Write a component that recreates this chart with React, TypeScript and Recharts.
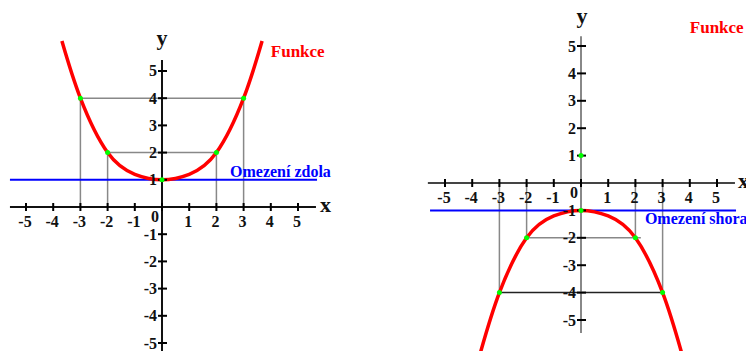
import React from 'react';
import { ComposedChart, Line, Scatter, XAxis, YAxis, ReferenceLine } from 'recharts';

// tick values shared by both panels
const X_TICKS = [-5, -4, -3, -2, -1, 1, 2, 3, 4, 5];
const Y_TICKS = [-5, -4, -3, -2, -1, 1, 2, 3, 4, 5];

// left panel: curve bounded from below
const LEFT_CURVE = [
  { x: -3.68, y: 6.1 }, { x: -3, y: 4 }, { x: -2, y: 2 }, { x: -1, y: 1.2 }, { x: 0, y: 1 },
  { x: 1, y: 1.2 }, { x: 2, y: 2 }, { x: 3, y: 4 }, { x: 3.68, y: 6.1 },
];
const LEFT_POINTS = [{ x: -3, y: 4 }, { x: -2, y: 2 }, { x: 0, y: 1 }, { x: 2, y: 2 }, { x: 3, y: 4 }];
const LEFT_GUIDES_X = [-3, -2, 2, 3];
const LEFT_GUIDES_Y = [{ y: 4, from: -3, to: 3 }, { y: 2, from: -2, to: 2.1 }];
const LEFT_LIMIT = 1;

// right panel: curve bounded from above
const RIGHT_CURVE = [
  { x: -3.7, y: -6.2 }, { x: -3, y: -4 }, { x: -2, y: -2 }, { x: -1, y: -1.2 }, { x: 0, y: -1 },
  { x: 1, y: -1.2 }, { x: 2, y: -2 }, { x: 3, y: -4 }, { x: 3.7, y: -6.2 },
];
const RIGHT_POINTS = [
  { x: 0, y: 1 }, { x: 0, y: -1 }, { x: -2, y: -2 }, { x: 2, y: -2 }, { x: -3, y: -4 }, { x: 3, y: -4 },
];
const RIGHT_GUIDES_X = [-3, -2, 2, 3];
const RIGHT_GUIDES_Y = [{ y: -2, from: -2, to: 2.2 }, { y: -4, from: -3, to: 3 }];
const RIGHT_LIMIT = -1;

const FONT = { fontFamily: '"Liberation Serif", serif', fontWeight: 700 };

const valueAt = (curve: { x: number; y: number }[], x: number) =>
  curve.find((p) => p.x === x)?.y ?? 0;

interface PanelProps {
  curve: { x: number; y: number }[];
  points: { x: number; y: number }[];
  guidesX: number[];
  guidesY: { y: number; from: number; to: number }[];
  limit: number;
  xDomain: [number, number];
  yDomain: [number, number];
  xAxisSpan: [number, number];
  yAxisSpan: [number, number];
  limitSpan: [number, number];
  labels: { x: number; y: number; text: string; color: string; size: number; anchor: string }[];
  xAxisColor: string;
  yAxisColor: string;
  guideColors: string[];
}

const Panel: React.FC<PanelProps> = (p) => {
  const xTicks = X_TICKS.map((v) => ({ x: v, y: 0 }));
  const yTicks = Y_TICKS.map((v) => ({ x: 0, y: v }));
  return (
    <ComposedChart width={373} height={351} margin={{ top: 0, right: 0, bottom: 0, left: 0 }}>
      <XAxis type="number" dataKey="x" domain={p.xDomain} allowDataOverflow hide />
      <YAxis type="number" dataKey="y" domain={p.yDomain} allowDataOverflow hide />

      {/* guide lines */}
      {p.guidesX.map((gx) => (
        <ReferenceLine key={`gx${gx}`} ifOverflow="visible" stroke="#888" strokeWidth={1.5}
          segment={[{ x: gx, y: 0 }, { x: gx, y: valueAt(p.curve, gx) }]} />
      ))}
      {p.guidesY.map((g, i) => (
        <ReferenceLine key={`gy${g.y}`} ifOverflow="visible" stroke={p.guideColors[i]} strokeWidth={1.5}
          segment={[{ x: g.from, y: g.y }, { x: g.to, y: g.y }]} />
      ))}

      {/* axes */}
      <ReferenceLine ifOverflow="visible" stroke={p.xAxisColor} strokeWidth={2}
        segment={[{ x: p.xAxisSpan[0], y: 0 }, { x: p.xAxisSpan[1], y: 0 }]} />
      <ReferenceLine ifOverflow="visible" stroke={p.yAxisColor} strokeWidth={2}
        segment={[{ x: 0, y: p.yAxisSpan[0] }, { x: 0, y: p.yAxisSpan[1] }]} />

      {/* limit line */}
      <ReferenceLine ifOverflow="visible" stroke="#0000ff" strokeWidth={2}
        segment={[{ x: p.limitSpan[0], y: p.limit }, { x: p.limitSpan[1], y: p.limit }]} />

      <Scatter data={xTicks} isAnimationActive={false}
        shape={(s: any) => (
          <g>
            <line x1={s.cx} x2={s.cx} y1={s.cy - 4} y2={s.cy + 4} stroke="#000" strokeWidth={2} />
            <text x={s.cx - 1} y={s.cy + 20} textAnchor="middle" style={{ ...FONT, fontSize: 16 }} fill="#111">
              {`${s.payload.x}`}
            </text>
          </g>
        )} />
      <Scatter data={yTicks} isAnimationActive={false}
        shape={(s: any) => (
          <g>
            <line x1={s.cx - 4} x2={s.cx + 5} y1={s.cy} y2={s.cy} stroke="#000" strokeWidth={2} />
            <text x={s.cx - 5} y={s.cy + 5.5} textAnchor="end" style={{ ...FONT, fontSize: 16 }} fill="#111">
              {`${s.payload.y}`}
            </text>
          </g>
        )} />
      <Scatter data={[{ x: 0, y: 0 }]} isAnimationActive={false}
        shape={(s: any) => (
          <g>
            <line x1={s.cx} x2={s.cx} y1={s.cy - 4} y2={s.cy + 4} stroke="#000" strokeWidth={2} />
            <text x={s.cx - 7} y={s.cy + 15} textAnchor="middle" style={{ ...FONT, fontSize: 16 }} fill="#111">0</text>
          </g>
        )} />

      <Line data={p.curve} dataKey="y" type="natural" stroke="#ff0000" strokeWidth={3.5}
        dot={false} activeDot={false} isAnimationActive={false} />

      <Scatter data={p.points} isAnimationActive={false}
        shape={(s: any) => <circle cx={s.cx} cy={s.cy} r={2.5} fill="#00ff00" />} />

      <Scatter data={p.labels} isAnimationActive={false}
        shape={(s: any) => (
          <text x={s.cx} y={s.cy} textAnchor={s.payload.anchor}
            style={{ ...FONT, fontSize: s.payload.size }} fill={s.payload.color}>
            {s.payload.text}
          </text>
        )} />
    </ComposedChart>
  );
};

export default function App() {
  return (
    <div style={{ position: 'absolute', left: 0, top: 0, width: 746, height: 351, display: 'flex', background: '#fff' }}>
      <Panel
        curve={LEFT_CURVE}
        points={LEFT_POINTS}
        guidesX={LEFT_GUIDES_X}
        guidesY={LEFT_GUIDES_Y}
        limit={LEFT_LIMIT}
        xDomain={[-5.956, 7.757]}
        yDomain={[-5.294, 7.61]}
        xAxisSpan={[-5.59, 5.66]}
        yAxisSpan={[-5.3, 5.4]}
        limitSpan={[-5.59, 5.7]}
        xAxisColor="#111"
        yAxisColor="#111"
        guideColors={['#888', '#888']}
        labels={[
          { x: 0, y: 5.96, text: 'y', color: '#111', size: 22, anchor: 'middle' },
          { x: 5.81, y: -0.18, text: 'x', color: '#111', size: 22, anchor: 'start' },
          { x: 4.0, y: 5.51, text: 'Funkce', color: '#ff0000', size: 17, anchor: 'start' },
          { x: 2.5, y: 1.1, text: 'Omezení zdola', color: '#0000ff', size: 16, anchor: 'start' },
        ]}
      />
      <Panel
        curve={RIGHT_CURVE}
        points={RIGHT_POINTS}
        guidesX={RIGHT_GUIDES_X}
        guidesY={RIGHT_GUIDES_Y}
        limit={RIGHT_LIMIT}
        xDomain={[-7.647, 6.066]}
        yDomain={[-6.131, 6.679]}
        xAxisSpan={[-5.63, 5.66]}
        yAxisSpan={[-5.47, 5.36]}
        limitSpan={[-5.55, 5.7]}
        xAxisColor="#444"
        yAxisColor="#888"
        guideColors={['#888', '#222']}
        labels={[
          { x: 0.04, y: 5.84, text: 'y', color: '#111', size: 22, anchor: 'middle' },
          { x: 5.77, y: -0.18, text: 'x', color: '#111', size: 22, anchor: 'start' },
          { x: 4.0, y: 5.47, text: 'Funkce', color: '#ff0000', size: 17, anchor: 'start' },
          { x: 2.35, y: -1.5, text: 'Omezení shora', color: '#0000ff', size: 16, anchor: 'start' },
        ]}
      />
    </div>
  );
}
